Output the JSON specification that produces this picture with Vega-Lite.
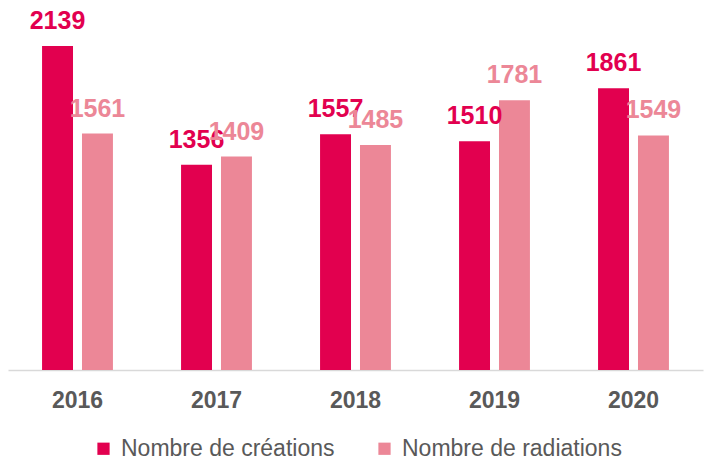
{
  "$schema": "https://vega.github.io/schema/vega-lite/v6.json",
  "width": 695,
  "height": 370,
  "autosize": {"type": "none"},
  "padding": {"left": 8, "top": 0, "right": 4, "bottom": 89},
  "background": "white",
  "config": {"view": {"stroke": null}, "font": "Liberation Sans"},
  "data": {
    "values": [
      {"year": "2016", "serie": "Nombre de créations", "value": 2139},
      {"year": "2016", "serie": "Nombre de radiations", "value": 1561},
      {"year": "2017", "serie": "Nombre de créations", "value": 1356},
      {"year": "2017", "serie": "Nombre de radiations", "value": 1409},
      {"year": "2018", "serie": "Nombre de créations", "value": 1557},
      {"year": "2018", "serie": "Nombre de radiations", "value": 1485},
      {"year": "2019", "serie": "Nombre de créations", "value": 1510},
      {"year": "2019", "serie": "Nombre de radiations", "value": 1781},
      {"year": "2020", "serie": "Nombre de créations", "value": 1861},
      {"year": "2020", "serie": "Nombre de radiations", "value": 1549}
    ]
  },
  "encoding": {
    "x": {
      "field": "year",
      "type": "nominal",
      "scale": {"paddingInner": 0.49, "paddingOuter": 0.245},
      "axis": {
        "title": null,
        "labelAngle": 0,
        "ticks": false,
        "domainColor": "#d9d9d9",
        "domainWidth": 1.5,
        "labelFont": "Liberation Sans",
        "labelFontWeight": "bold",
        "labelFontSize": 23,
        "labelColor": "#595959",
        "labelBaseline": "alphabetic",
        "labelPadding": 37
      }
    },
    "xOffset": {
      "field": "serie",
      "type": "nominal",
      "sort": ["Nombre de créations", "Nombre de radiations"],
      "scale": {"paddingInner": 0.225, "paddingOuter": 0}
    },
    "y": {
      "field": "value",
      "type": "quantitative",
      "scale": {"domain": [0, 2443], "nice": false},
      "axis": null
    },
    "color": {
      "field": "serie",
      "type": "nominal",
      "sort": ["Nombre de créations", "Nombre de radiations"],
      "scale": {"range": ["#E2004F", "#EC8797"]},
      "legend": {
        "title": null,
        "orient": "none",
        "direction": "horizontal",
        "legendX": 84,
        "legendY": 437,
        "symbolType": "square",
        "symbolSize": 150,
        "symbolStrokeWidth": 0,
        "labelFont": "Liberation Sans",
        "labelFontSize": 23,
        "labelLimit": 400,
        "labelColor": "#595959",
        "labelOffset": 6,
        "columnPadding": 38
      }
    }
  },
  "layer": [
    {"mark": {"type": "bar"}},
    {
      "mark": {
        "type": "text",
        "baseline": "alphabetic",
        "dy": -17,
        "fontSize": 25,
        "fontWeight": "bold",
        "font": "Liberation Sans"
      },
      "encoding": {"text": {"field": "value", "type": "quantitative"}}
    }
  ]
}
